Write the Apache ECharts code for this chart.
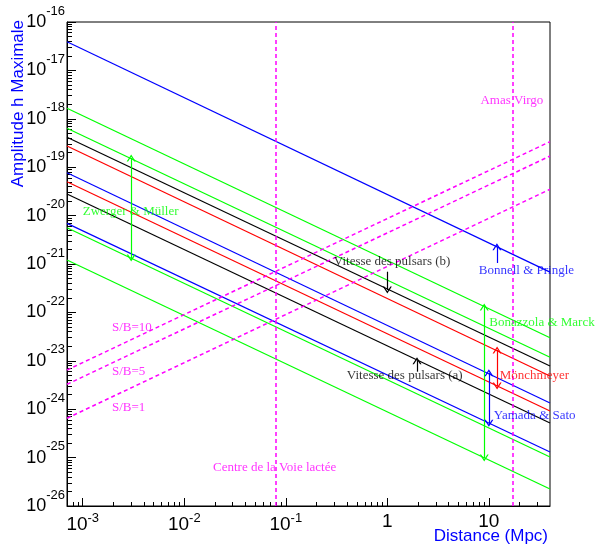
<!DOCTYPE html>
<html>
<head>
<meta charset="utf-8">
<script src="https://cdn.jsdelivr.net/npm/echarts@6/dist/echarts.min.js"></script>
<style>
html,body{margin:0;padding:0;background:#fff;}
#chart{width:597px;height:547px;}
</style>
</head>
<body>
<div id="chart"></div>
<script>
// ---------- data ----------
const xRange = [7e-4, 40];          // distance range (Mpc)
const yRange = [1e-26, 1e-16];      // amplitude range
const lineDist = [7e-4, 40];        // distances at which the sensitivity lines are read

// h ~ 1/d sensitivity lines (values at lineDist)
const bonnellPringle   = [3.9e-17, 6.8e-22];
const bonazzolaUpper   = [1.65e-18, 3.0e-23];
const zwergerUpper     = [6.4e-19, 1.18e-23];
const pulsarsB         = [4.15e-19, 7.8e-24];
const monchmeyerUpper  = [2.74e-19, 4.85e-24];
const yamadaUpper      = [7.7e-20, 1.34e-24];
const monchmeyerLower  = [5.0e-20, 9.2e-25];
const pulsarsA         = [2.8e-20, 5.2e-25];
const yamadaLower      = [6.9e-21, 1.31e-25];
const zwergerLower     = [5.6e-21, 1.03e-25];
const bonazzolaLower   = [1.21e-21, 2.24e-26];

// S/B lines (h ~ d), values at lineDist
const sb10 = [6.45e-24, 3.37e-19];
const sb5  = [3.27e-24, 1.70e-19];
const sb1  = [6.5e-25, 3.5e-20];

// vertical reference distances
const galacticCentre = 0.081;
const virgoCluster   = 17;

// arrows: [distance, hFrom, hTo]
const arrowZwerger   = [3.0e-3, 1.55e-19, 1.33e-21];
const arrowBonazzola = [9.0, 1.29e-22, 9.8e-26];
const arrowMonch     = [12.05, 1.67e-23, 3.02e-24];
const arrowYamada    = [10.0, 5.68e-24, 5.12e-25];
const arrowBonnell   = [12.0, 1.05e-21, 2.28e-21];
const arrowPulsarB   = [1.0, 6.93e-22, 2.9e-22];
const arrowPulsarA   = [1.96, 5.96e-24, 1.0e-23];

// text annotations: [distance, h, text]
const labelsGreen   = [[1.0e-3, 1.19e-20, 'Zwerger & Müller'], [10.1, 6.12e-23, 'Bonazzola & Marck']];
const labelsBlue    = [[7.95, 7.16e-22, 'Bonnell & Pringle'], [11.2, 7.35e-25, 'Yamada & Sato']];
const labelsRed     = [[12.8, 4.85e-24, 'Mönchmeyer']];
const labelsBlack   = [[0.297, 1.1e-21, 'Vitesse des pulsars (b)'], [0.399, 4.93e-24, 'Vitesse des pulsars (a)']];
const labelsMagenta = [[8.26, 2.33e-18, 'Amas Virgo'], [1.94e-3, 4.76e-23, 'S/B=10'], [1.94e-3, 5.96e-24, 'S/B=5'],
                       [1.94e-3, 1.07e-24, 'S/B=1'], [0.0192, 6.18e-26, 'Centre de la Voie lactée']];

// ticks
const xMajorTicks = [1e-3, 1e-2, 1e-1, 1, 10];
const xMinorTicks = [8e-4, 9e-4, 2e-3, 3e-3, 4e-3, 5e-3, 6e-3, 7e-3, 8e-3, 9e-3,
  2e-2, 3e-2, 4e-2, 5e-2, 6e-2, 7e-2, 8e-2, 9e-2, 0.2, 0.3, 0.4, 0.5, 0.6, 0.7, 0.8, 0.9,
  2, 3, 4, 5, 6, 7, 8, 9, 20, 30];
const yMajorTicks = [1e-26, 1e-25, 1e-24, 1e-23, 1e-22, 1e-21, 1e-20, 1e-19, 1e-18, 1e-17, 1e-16];
const yMinorMultipliers = [2, 3, 4, 5, 6, 7, 8, 9];

// ---------- chart ----------
const BLUE = '#0000ff', GREEN = '#00ff00', RED = '#ff0000', MAGENTA = '#ff00ff', BLACK = '#000000';
const yMinorTicks = [];
yMajorTicks.slice(0, -1).forEach(d => yMinorMultipliers.forEach(m => yMinorTicks.push(m * d)));

function pts(vals) { return lineDist.map((d, i) => [d, vals[i]]); }
function sciLabel(v) {
  const e = Math.round(Math.log10(v));
  if (e === 0) return '{b|1}';
  if (e === 1) return '{b|10}';
  return '{b|10}{e|' + e + '}';
}
function lineSeries(vals, color, dashed) {
  return {
    type: 'line', data: pts(vals), showSymbol: false, symbol: 'none', silent: true,
    lineStyle: { color: color, width: dashed ? 1.5 : 1.2, type: dashed ? [4, 3] : 'solid' },
    z: 3
  };
}
const chevron = 'path://M0,10 L5,0 L10,10 L8.4,10 L5,3.2 L1.6,10 Z';
function arrowSeries(arrs, color, doubleHead) {
  return {
    type: 'line', data: [], silent: true,
    markLine: {
      silent: true, animation: false,
      symbol: doubleHead ? [chevron, chevron] : ['none', chevron],
      symbolSize: [9, 7],
      label: { show: false },
      lineStyle: { color: color, width: 1.2, type: 'solid' },
      emphasis: { disabled: true },
      data: arrs.map(a => [{ coord: [a[0], a[1]] }, { coord: [a[0], a[2]] }])
    }
  };
}
function vlineSeries(xs) {
  return {
    type: 'line', data: [], silent: true,
    markLine: {
      silent: true, animation: false, symbol: ['none', 'none'],
      label: { show: false },
      lineStyle: { color: MAGENTA, width: 1.5, type: [4, 3] },
      emphasis: { disabled: true },
      data: xs.map(x => ({ xAxis: x }))
    }
  };
}
function textSeries(items, color) {
  return {
    type: 'scatter', symbolSize: 0, silent: true, clip: false,
    data: items.map(it => ({ value: [it[0], it[1]], name: it[2] })),
    label: {
      show: true, position: 'right', distance: 0, formatter: p => p.name,
      color: color, fontFamily: 'Liberation Serif', fontSize: 13, verticalAlign: 'middle'
    },
    z: 5
  };
}

const richX = {
  b: { fontFamily: 'Liberation Sans', fontSize: 19, color: '#000' },
  e: { fontFamily: 'Liberation Sans', fontSize: 13, color: '#000', padding: [0, 0, 12, 0] }
};
const richY = {
  b: { fontFamily: 'Liberation Sans', fontSize: 18, color: '#000' },
  e: { fontFamily: 'Liberation Sans', fontSize: 13, color: '#000', padding: [0, 0, 22, 0] }
};

const chart = echarts.init(document.getElementById('chart'), null, { renderer: 'canvas' });
chart.setOption({
  animation: false,
  backgroundColor: '#ffffff',
  grid: { left: 67, top: 22, right: 47, bottom: 41, show: true, borderColor: '#000', borderWidth: 1, containLabel: false },
  xAxis: [
    {
      type: 'log', logBase: 10, min: xRange[0], max: xRange[1], position: 'bottom',
      name: 'Distance (Mpc)', nameLocation: 'end', nameGap: 0, nameMoveOverlap: false,
      nameTextStyle: { color: BLUE, fontFamily: 'Liberation Sans', fontSize: 17, align: 'right', verticalAlign: 'top', padding: [22, 2, 0, 0] },
      axisLine: { show: true, lineStyle: { color: '#000', width: 1 } },
      axisTick: { show: true, inside: true, length: 8, customValues: xMajorTicks, lineStyle: { color: '#000' } },
      axisLabel: { show: true, customValues: xMajorTicks, formatter: sciLabel, rich: richX, margin: 6 },
      splitLine: { show: false }, minorTick: { show: false }, minorSplitLine: { show: false }
    },
    {
      type: 'log', logBase: 10, min: xRange[0], max: xRange[1], position: 'bottom',
      axisLine: { show: false },
      axisTick: { show: true, inside: true, length: 4, customValues: xMinorTicks, lineStyle: { color: '#000' } },
      axisLabel: { show: false }, splitLine: { show: false }
    }
  ],
  yAxis: [
    {
      type: 'log', logBase: 10, min: yRange[0], max: yRange[1], position: 'left',
      name: 'Amplitude h Maximale', nameLocation: 'end', nameGap: 2, nameRotate: 90, nameMoveOverlap: false,
      nameTextStyle: { color: BLUE, fontFamily: 'Liberation Sans', fontSize: 17, align: 'right', verticalAlign: 'bottom', padding: [0, 0, 40, 0] },
      axisLine: { show: true, lineStyle: { color: '#000', width: 1 } },
      axisTick: { show: true, inside: true, length: 9, customValues: yMajorTicks, lineStyle: { color: '#000' } },
      axisLabel: { show: true, customValues: yMajorTicks, formatter: sciLabel, rich: richY, margin: 2 },
      splitLine: { show: false }, minorTick: { show: false }, minorSplitLine: { show: false }
    },
    {
      type: 'log', logBase: 10, min: yRange[0], max: yRange[1], position: 'left',
      axisLine: { show: false },
      axisTick: { show: true, inside: true, length: 5, customValues: yMinorTicks, lineStyle: { color: '#000' } },
      axisLabel: { show: false }, splitLine: { show: false }
    }
  ],
  series: [
    lineSeries(bonnellPringle, BLUE),
    lineSeries(bonazzolaUpper, GREEN),
    lineSeries(zwergerUpper, GREEN),
    lineSeries(pulsarsB, BLACK),
    lineSeries(monchmeyerUpper, RED),
    lineSeries(yamadaUpper, BLUE),
    lineSeries(monchmeyerLower, RED),
    lineSeries(pulsarsA, BLACK),
    lineSeries(yamadaLower, BLUE),
    lineSeries(zwergerLower, GREEN),
    lineSeries(bonazzolaLower, GREEN),
    lineSeries(sb10, MAGENTA, true),
    lineSeries(sb5, MAGENTA, true),
    lineSeries(sb1, MAGENTA, true),
    vlineSeries([galacticCentre, virgoCluster]),
    arrowSeries([arrowZwerger, arrowBonazzola], GREEN, true),
    arrowSeries([arrowMonch], RED, true),
    arrowSeries([arrowYamada], BLUE, true),
    arrowSeries([arrowBonnell], BLUE, false),
    arrowSeries([arrowPulsarB, arrowPulsarA], BLACK, false),
    textSeries(labelsGreen, GREEN),
    textSeries(labelsBlue, BLUE),
    textSeries(labelsRed, RED),
    textSeries(labelsBlack, BLACK),
    textSeries(labelsMagenta, MAGENTA)
  ]
});
</script>
</body>
</html>
